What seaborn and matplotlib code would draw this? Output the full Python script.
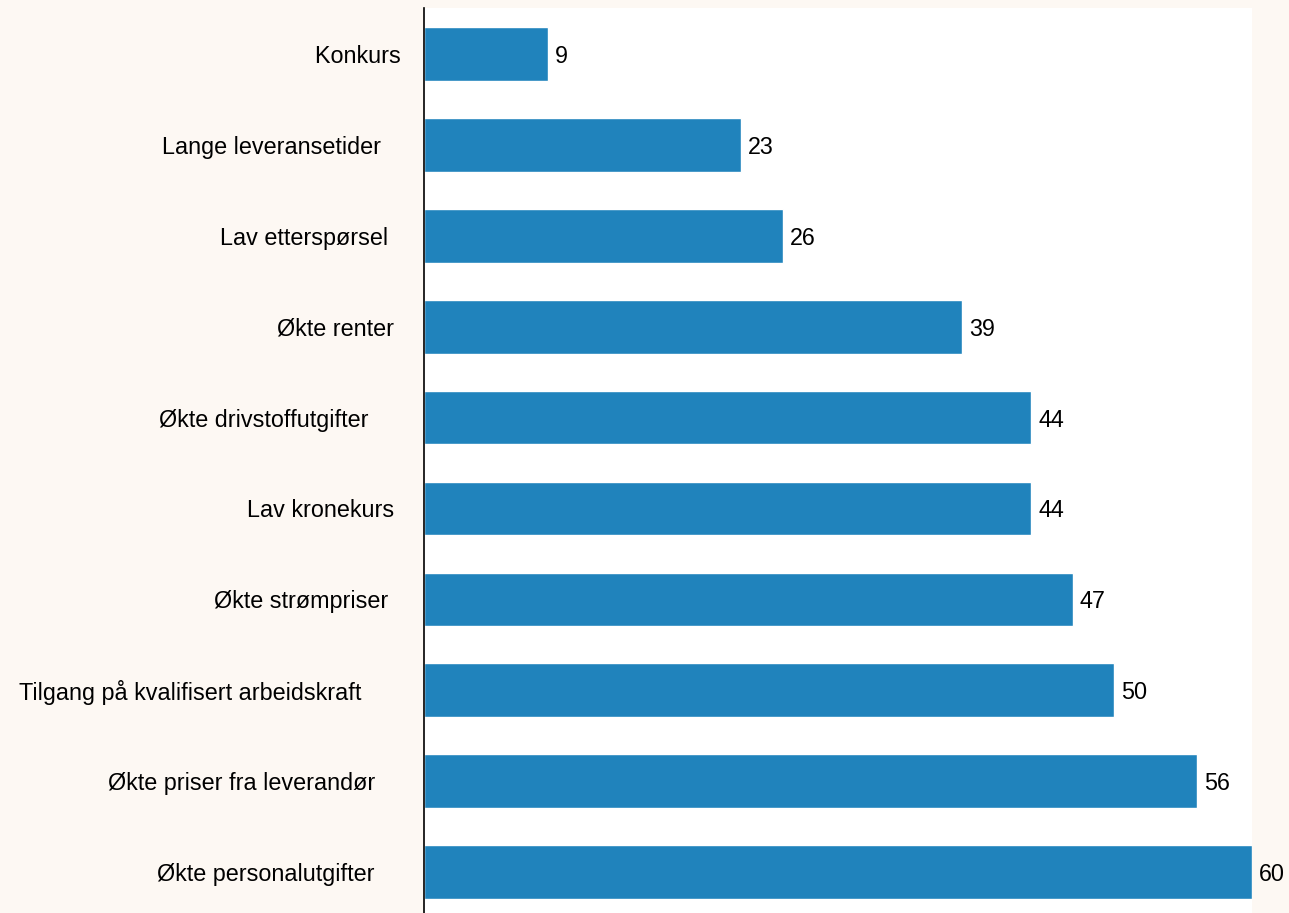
import matplotlib
matplotlib.use("Agg")
import matplotlib.pyplot as plt
import seaborn as sns
import pandas as pd

categories = [
    "Konkurs ",
    "Lange leveransetider    ",
    "Lav etterspørsel   ",
    "Økte renter  ",
    "Økte drivstoffutgifter      ",
    "Lav kronekurs  ",
    "Økte strømpriser   ",
    "Tilgang på kvalifisert arbeidskraft       ",
    "Økte priser fra leverandør     ",
    "Økte personalutgifter     ",
]
values = [9, 23, 26, 39, 44, 44, 47, 50, 56, 60]

df = pd.DataFrame({"kategori": categories, "verdi": values})

sns.set_theme(style="white")
plt.rcParams["font.family"] = ["Liberation Sans", "DejaVu Sans"]

bg = "#fdf8f3"
bar_color = "#2083bc"

fig = plt.figure(figsize=(12.89, 9.13), dpi=100, facecolor=bg)
ax = fig.add_axes([424 / 1289, 0.0, (1252 - 424) / 1289, (913 - 8) / 913])
ax.set_facecolor("white")

sns.barplot(data=df, x="verdi", y="kategori", orient="h", color=bar_color,
            width=0.59, saturation=1, ax=ax)

ax.set_xlim(0, 60)
ax.set_ylim(9.45, -0.506)
ax.set_xlabel("")
ax.set_ylabel("")
ax.set_xticks([])
ax.tick_params(axis="y", length=0, pad=12, labelsize=16.8, labelcolor="black")

for c in ax.containers:
    texts = ax.bar_label(c, fmt="%d", padding=5, fontsize=16.8, color="black",
                         clip_on=False)
    for t in texts:
        t.set_verticalalignment("center_baseline")

for s in ["top", "right", "bottom"]:
    ax.spines[s].set_visible(False)
ax.spines["left"].set_color("black")
ax.spines["left"].set_linewidth(1.2)

fig.savefig("out.png", dpi=100, facecolor=bg)
